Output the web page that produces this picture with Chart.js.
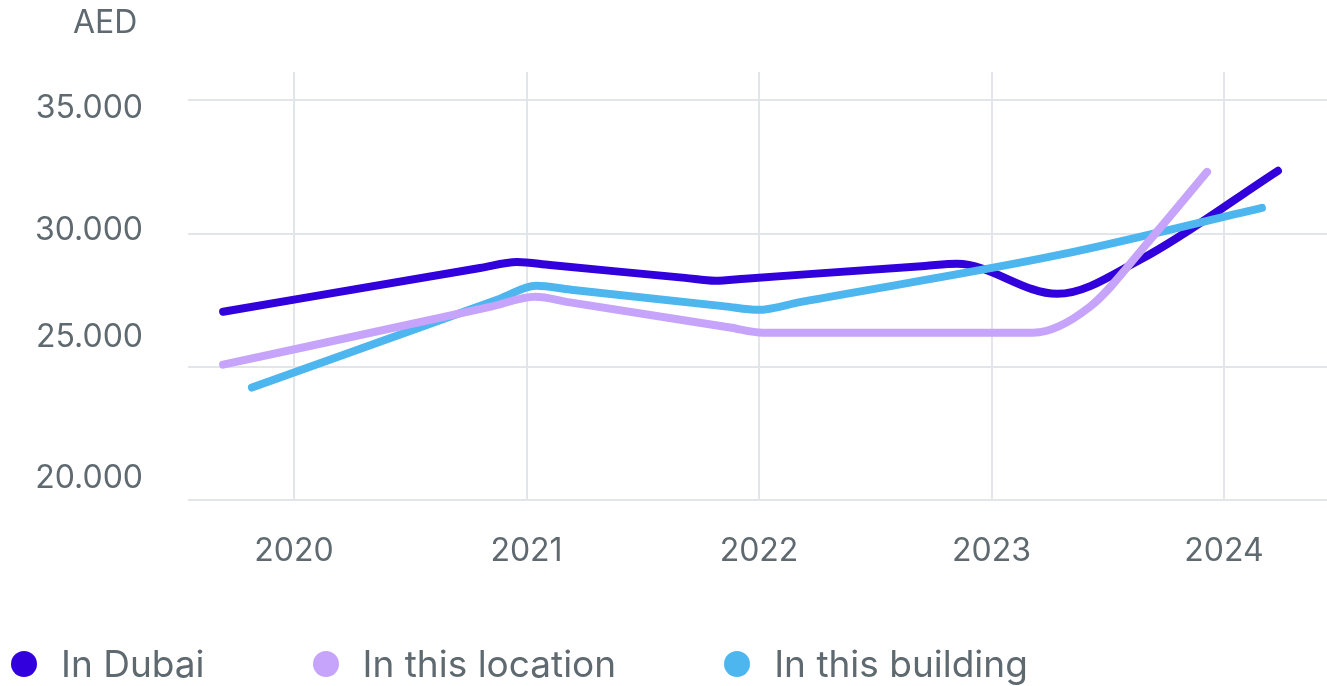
<!DOCTYPE html>
<html>
<head>
<meta charset="utf-8">
<script src="https://cdn.jsdelivr.net/npm/chart.js@4.4.1/dist/chart.umd.min.js"></script>
<style>
  body { margin: 0; background: #fff; font-family: Inter, sans-serif; }
  #wrap { position: relative; width: 1327px; height: 686px; }
  #unit { position: absolute; left: 73px; top: 3px; font-size: 32px; line-height: 38px; color: #5f6a70; }
  #legend { position: absolute; left: 11px; top: 641px; display: flex; gap: 108px; }
  .item { display: flex; align-items: center; gap: 24px; font-size: 37px; color: #5f6a70; }
  .dot { width: 26px; height: 26px; border-radius: 50%; }
</style>
</head>
<body>
<div id="wrap">
  <canvas id="priceChart" width="1327" height="686"></canvas>
  <div id="unit">AED</div>
  <div id="legend"></div>
</div>
<script>
// values (x = fractional year, y = AED)
var dubaiYears = [2019.695, 2020.80, 2020.959, 2021.101, 2021.682, 2021.811, 2021.940, 2022.714, 2022.852, 2023.282, 2023.639, 2024.232];
var dubaiValues = [27070, 28710, 28940, 28820, 28340, 28230, 28310, 28790, 28870, 27740, 29020, 32360];

var locationYears = [2019.695, 2020.843, 2021.037, 2021.187, 2021.875, 2022.017, 2023.178, 2023.424, 2023.682, 2023.927];
var locationValues = [25080, 27250, 27630, 27420, 26475, 26280, 26280, 27260, 29770, 32320];

var buildingYears = [2019.819, 2020.886, 2021.041, 2021.187, 2021.854, 2021.996, 2022.176, 2023.295, 2024.163];
var buildingValues = [24220, 27560, 28040, 27900, 27270, 27140, 27430, 29210, 30970];

var yearTicks = [2020, 2021, 2022, 2023, 2024];
var gridValues = [20000, 25000, 30000, 35000];
var yLabelValues = [20820, 26110, 30140, 34720];
var yLabelText = ['20.000', '25.000', '30.000', '35.000'];

var seriesNames = ['In Dubai', 'In this location', 'In this building'];
var seriesColors = ['#3100dc', '#c6a4fb', '#4eb6ef'];

function toPoints(xs, ys) {
    return xs.map((x, i) => ({x: x, y: ys[i]}));
}

var gridColor = '#e2e5e9';
var textColor = '#5f6a70';
Chart.defaults.font.family = 'Inter';

var ctx = document.getElementById('priceChart').getContext('2d');
var priceChart = new Chart(ctx, {
    type: 'line',
    data: {
        datasets: [{
            label: seriesNames[0],
            data: toPoints(dubaiYears, dubaiValues),
            borderColor: seriesColors[0],
            order: 3
        }, {
            label: seriesNames[1],
            data: toPoints(locationYears, locationValues),
            borderColor: seriesColors[1],
            order: 1
        }, {
            label: seriesNames[2],
            data: toPoints(buildingYears, buildingValues),
            borderColor: seriesColors[2],
            order: 2
        }]
    },
    options: {
        responsive: false,
        animation: false,
        layout: { padding: { top: 72, right: 0, bottom: 0, left: 0 } },
        elements: {
            line: {
                borderWidth: 8,
                fill: false,
                cubicInterpolationMode: 'monotone',
                borderCapStyle: 'round',
                borderJoinStyle: 'round'
            },
            point: { radius: 0 }
        },
        plugins: {
            legend: { display: false },
            tooltip: { enabled: false }
        },
        scales: {
            x: {
                type: 'linear',
                min: 2019.544,
                max: 2024.443,
                afterBuildTicks: s => { s.ticks = yearTicks.map(v => ({value: v})); },
                afterFit: s => { s.height = 186; },
                grid: { color: gridColor, lineWidth: 2, drawTicks: false },
                border: { display: false },
                ticks: {
                    color: textColor,
                    font: { size: 32 },
                    padding: 32,
                    maxRotation: 0,
                    callback: v => String(v)
                }
            },
            y: {
                min: 20000,
                max: 36070,
                afterBuildTicks: s => { s.ticks = gridValues.map(v => ({value: v})); },
                afterFit: s => { s.width = 0; },
                grid: { color: gridColor, lineWidth: 2, drawTicks: false },
                border: { display: false },
                ticks: { display: false }
            },
            yl: {
                position: 'left',
                min: 20000,
                max: 36070,
                afterBuildTicks: s => { s.ticks = yLabelValues.map(v => ({value: v})); },
                afterFit: s => { s.width = 188; },
                grid: { display: false, drawTicks: false },
                border: { display: false },
                ticks: {
                    color: textColor,
                    font: { size: 32 },
                    padding: 45,
                    callback: (v, i) => yLabelText[i]
                }
            }
        }
    }
});

// legend
var legendEl = document.getElementById('legend');
priceChart.data.datasets.forEach(ds => {
    var item = document.createElement('div');
    item.className = 'item';
    var dot = document.createElement('span');
    dot.className = 'dot';
    dot.style.background = ds.borderColor;
    var txt = document.createElement('span');
    txt.textContent = ds.label;
    item.appendChild(dot);
    item.appendChild(txt);
    legendEl.appendChild(item);
});
</script>
</body>
</html>
